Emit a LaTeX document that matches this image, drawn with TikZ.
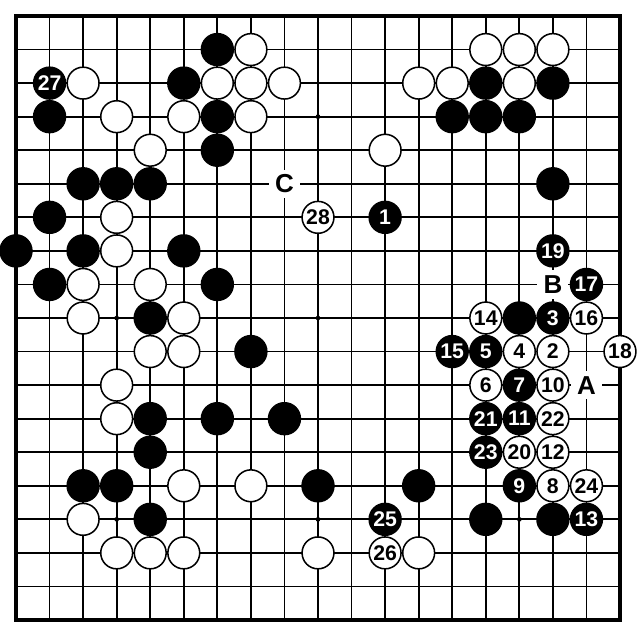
\documentclass[tikz,border=0pt]{standalone}
\usepackage{fontspec}
\setmainfont{Liberation Sans}
\begin{document}
\begin{tikzpicture}[x=1cm, y=-1cm,
	stone/.style={circle, draw=black, line width=1.3pt, minimum size=0.95cm, inner sep=0pt, font=\bfseries\fontsize{18}{18}\selectfont},
	black stone/.style={stone, fill=black, text=white},
	white stone/.style={stone, fill=white, text=black},
	letter/.style={fill=white, inner sep=0pt, minimum width=0.92cm, minimum height=0.84cm, font=\bfseries\fontsize{22}{22}\selectfont}]

		\def \n {18}
		\useasboundingbox (-0.477,-0.477) rectangle (18.596,18.447);

	% board
		\draw[line width=1.5pt] (0,0) grid (\n,\n);
		\draw[line width=3.6pt] (0,0) rectangle (\n,\n);
		\foreach \ix in {3,9,15}{
			\foreach \iy in {3,9,15}{
				\fill (\ix,\iy) circle (0.07);
			}
		}

	% plain black stones
		\foreach \c/\r in {6/1, 5/2, 14/2, 16/2, 1/3, 6/3, 13/3, 14/3, 15/3, 6/4,
			2/5, 3/5, 4/5, 16/5, 1/6, 0/7, 2/7, 5/7, 1/8, 6/8, 4/9, 15/9, 7/10,
			4/12, 6/12, 8/12, 4/13, 2/14, 3/14, 9/14, 12/14, 4/15, 14/15, 16/15}
			\node[black stone] (b-\c-\r) at (\c,\r) {};

	% plain white stones
		\foreach \c/\r in {7/1, 14/1, 15/1, 16/1, 2/2, 6/2, 7/2, 8/2, 12/2, 13/2, 15/2,
			3/3, 5/3, 7/3, 4/4, 11/4, 3/6, 3/7, 2/8, 4/8, 2/9, 5/9, 4/10, 5/10,
			3/11, 3/12, 5/14, 7/14, 2/15, 3/16, 4/16, 5/16, 9/16, 12/16}
			\node[white stone] (w-\c-\r) at (\c,\r) {};

	% moves
		\foreach \m/\c/\r in {1/11/6, 3/16/9, 5/14/10, 7/15/11, 9/15/14, 11/15/12, 13/17/15,
			15/13/10, 17/17/8, 19/16/7, 21/14/12, 23/14/13, 25/11/15, 27/1/2}
			\node[black stone] (m\m) at (\c,\r) {\m};
		\foreach \m/\c/\r in {2/16/10, 4/15/10, 6/14/11, 8/16/14, 10/16/11, 12/16/13, 14/14/9,
			16/17/9, 18/18/10, 20/15/13, 22/16/12, 24/17/14, 26/11/16, 28/9/6}
			\node[white stone] (m\m) at (\c,\r) {\m};

	% points
		\node[letter] (A) at (17,11) {A};
		\node[letter] (B) at (16,8) {B};
		\node[letter] (C) at (8,5) {C};

	\end{tikzpicture}
\end{document}
